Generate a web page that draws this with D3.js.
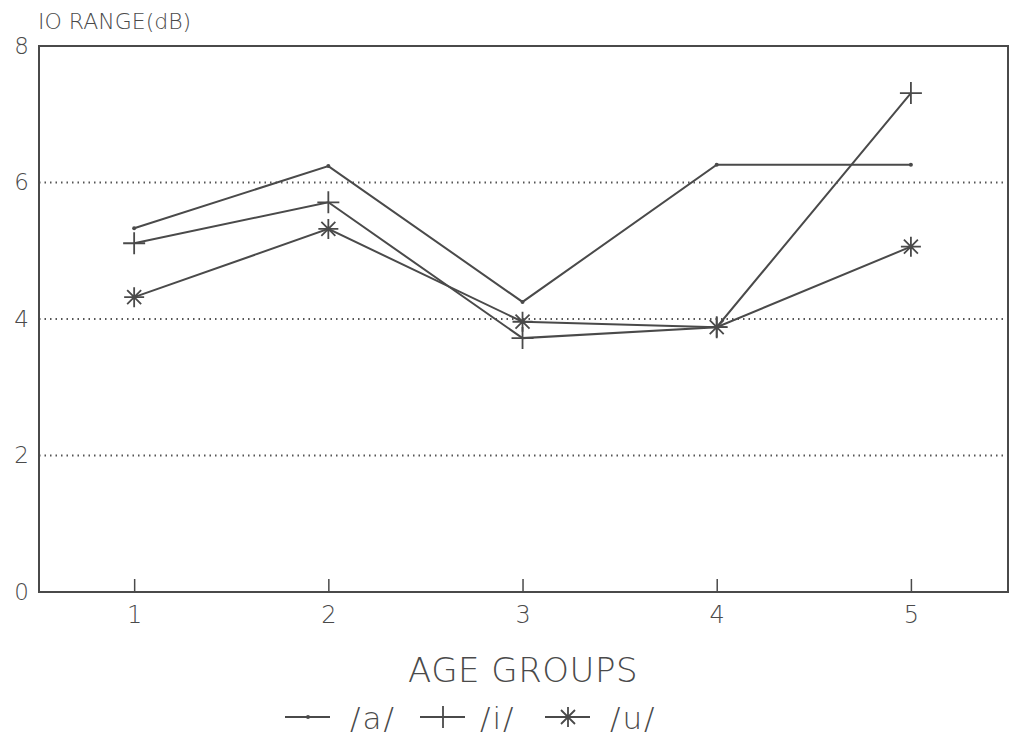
<!DOCTYPE html>
<html><head><meta charset="utf-8">
<script src="https://cdn.jsdelivr.net/npm/d3@7"></script>
<style>body{margin:0;background:#fff}</style>
</head><body>
<script>
const ageGroups = [1, 2, 3, 4, 5];
const seriesA = [5.33, 6.24, 4.25, 6.26, 6.26];
const seriesI = [5.11, 5.71, 3.72, 3.88, 7.31];
const seriesU = [4.32, 5.32, 3.96, 3.88, 5.06];
const seriesNames = ["/a/", "/i/", "/u/"];
const yTicks = [0, 2, 4, 6, 8];
const gridValues = [2, 4, 6];

const W = 1010, H = 750;
const ink = "#4a4a4a";
const textInk = "#4a4a4a";
const font = "'DejaVu Sans', sans-serif";
const svg = d3.select("body").append("svg").attr("width", W).attr("height", H);

const x = d3.scaleLinear().domain([0.51, 5.5]).range([39, 1008]);
const y = d3.scaleLinear().domain([0, 8]).range([592, 46]);

function styleText(sel, size, spacing) {
  sel.attr("fill", textInk).style("font-family", font).style("font-weight", "200")
    .style("font-size", size + "px").style("letter-spacing", (spacing || 0) + "px");
}

// grid
svg.selectAll(".grid").data(gridValues).enter().append("line")
  .attr("x1", x.range()[0]).attr("x2", x.range()[1])
  .attr("y1", d => y(d)).attr("y2", d => y(d))
  .attr("stroke", "#555").attr("stroke-width", 1.8).attr("stroke-dasharray", "1.5,4");

// frame
svg.append("rect").attr("x", x.range()[0]).attr("y", y(8))
  .attr("width", x.range()[1] - x.range()[0]).attr("height", y(0) - y(8))
  .attr("fill", "none").attr("stroke", ink).attr("stroke-width", 2);

// x axis ticks (inward)
const xAxis = d3.axisBottom(x).tickValues(ageGroups).tickSize(-13).tickPadding(14).tickFormat(d3.format("d"));
const gx = svg.append("g").attr("transform", `translate(0,${y(0)})`).call(xAxis);
gx.select(".domain").remove();
gx.selectAll(".tick line").attr("stroke", ink).attr("stroke-width", 1.5);
styleText(gx.selectAll(".tick text"), 24);

// y axis labels
const yAxis = d3.axisLeft(y).tickValues(yTicks).tickSize(0).tickPadding(10).tickFormat(d3.format("d"));
const gy = svg.append("g").attr("transform", `translate(${x.range()[0]},0)`).call(yAxis);
gy.select(".domain").remove();
styleText(gy.selectAll(".tick text"), 23);

// titles
styleText(svg.append("text").attr("x", 38).attr("y", 29).text("IO RANGE(dB)"), 22, 0);
styleText(svg.append("text").attr("x", 523).attr("y", 682).attr("text-anchor", "middle").text("AGE GROUPS"), 34, 0.5);

const line = d3.line().x((d, i) => x(ageGroups[i])).y(d => y(d));
const allSeries = [seriesA, seriesI, seriesU];

function marker(g, type, cx, cy) {
  if (type === 0) {
    g.append("circle").attr("cx", cx).attr("cy", cy).attr("r", 2).attr("fill", ink);
  } else if (type === 1) {
    g.append("path").attr("d", `M${cx-11},${cy}H${cx+11}M${cx},${cy-11}V${cy+11}`)
      .attr("stroke", ink).attr("stroke-width", 1.8).attr("fill", "none");
  } else {
    const r = 10, rd = 7;
    g.append("path").attr("d", `M${cx-r},${cy}H${cx+r}M${cx},${cy-r}V${cy+r}M${cx-rd},${cy-rd}L${cx+rd},${cy+rd}M${cx-rd},${cy+rd}L${cx+rd},${cy-rd}`)
      .attr("stroke", ink).attr("stroke-width", 1.8).attr("fill", "none");
  }
}

allSeries.forEach((s, k) => {
  svg.append("path").datum(s).attr("d", line).attr("fill", "none")
    .attr("stroke", ink).attr("stroke-width", 2);
  const g = svg.append("g");
  s.forEach((v, i) => marker(g, k, x(ageGroups[i]), y(v)));
});

// legend
const legX = [285, 420, 545];
const legTextX = [350, 480, 610];
seriesNames.forEach((n, k) => {
  const g = svg.append("g");
  g.append("line").attr("x1", legX[k]).attr("x2", legX[k] + 45).attr("y1", 717).attr("y2", 717)
    .attr("stroke", ink).attr("stroke-width", 2);
  marker(g, k, legX[k] + 23, 717);
  styleText(g.append("text").attr("x", legTextX[k]).attr("y", 729).text(n), 31, 2);
});
</script>
</body></html>
